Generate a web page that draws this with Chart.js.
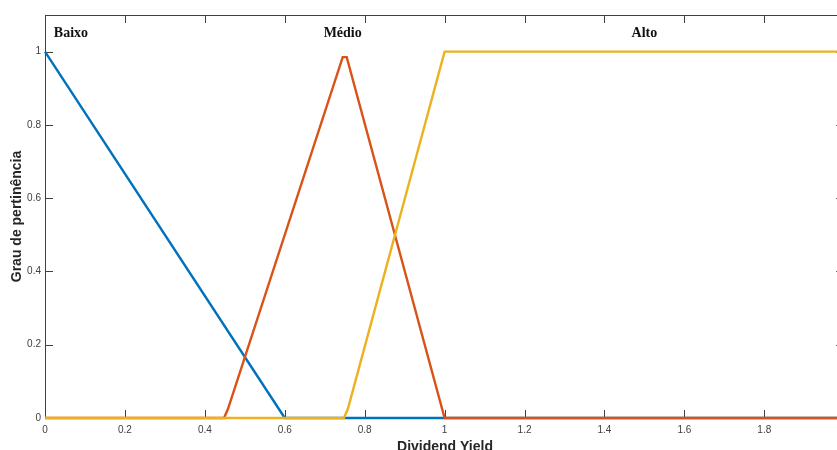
<!DOCTYPE html>
<html>
<head>
<meta charset="utf-8">
<script src="https://cdn.jsdelivr.net/npm/chart.js@4/dist/chart.umd.min.js"></script>
<style>
  html, body { margin: 0; padding: 0; overflow: hidden; background: #fff; }
  canvas { display: block; }
</style>
</head>
<body>
<canvas id="chart" width="853" height="450" style="width:853px;height:450px"></canvas>
<script>
// membership functions (x = dividend yield, y = degree)
const baixoX = [0, 0.6, 2];
const baixoY = [1, 0, 0];
const medioX = [0, 0.448, 0.458, 0.745, 0.755, 1, 2];
const medioY = [0, 0, 0.025, 0.985, 0.985, 0, 0];
const altoX = [0, 0.748, 0.758, 1, 2];
const altoY = [0, 0, 0.025, 1, 1];

const xTicks = [0, 0.2, 0.4, 0.6, 0.8, 1, 1.2, 1.4, 1.6, 1.8, 2];
const yTicks = [0, 0.2, 0.4, 0.6, 0.8, 1];

const setNames = ['Baixo', 'Médio', 'Alto'];
const setNameX = [0.065, 0.745, 1.5];
const setNameY = [1.05, 1.05, 1.05];

const toPoints = (xs, ys) => xs.map((x, i) => ({ x: x, y: ys[i] }));
const fmt = v => String(+v.toFixed(1));

const AXIS = '#404040';

// MATLAB-like box with inward ticks (under the lines), plus text annotations
const matlabAxes = {
    id: 'matlabAxes',
    beforeDatasetsDraw(chart) {
        const ctx = chart.ctx;
        const a = chart.chartArea;
        const xs = chart.scales.x, ys = chart.scales.y;
        const tl = 8;
        ctx.save();
        ctx.strokeStyle = AXIS;
        ctx.lineWidth = 1;
        ctx.strokeRect(a.left + 0.5, a.top + 0.5, a.right - a.left, a.bottom - a.top);
        ctx.beginPath();
        xTicks.forEach(v => {
            const px = Math.round(xs.getPixelForValue(v)) + 0.5;
            ctx.moveTo(px, a.bottom); ctx.lineTo(px, a.bottom - tl);
            ctx.moveTo(px, a.top); ctx.lineTo(px, a.top + tl);
        });
        yTicks.forEach(v => {
            const py = Math.round(ys.getPixelForValue(v)) + 0.5;
            ctx.moveTo(a.left, py); ctx.lineTo(a.left + tl, py);
            ctx.moveTo(a.right, py); ctx.lineTo(a.right - tl, py);
        });
        ctx.stroke();
        ctx.restore();
    },
    afterDraw(chart) {
        const ctx = chart.ctx;
        const a = chart.chartArea;
        const xs = chart.scales.x, ys = chart.scales.y;
        ctx.save();
        // set names
        ctx.fillStyle = '#111';
        ctx.font = 'bold 14px "Liberation Serif", "Times New Roman", serif';
        ctx.textAlign = 'center';
        ctx.textBaseline = 'middle';
        setNames.forEach((s, i) => {
            ctx.fillText(s, xs.getPixelForValue(setNameX[i]), ys.getPixelForValue(setNameY[i]));
        });

        // axis titles
        ctx.fillStyle = '#262626';
        ctx.font = 'bold 14px "Liberation Sans", Arial, sans-serif';
        ctx.textBaseline = 'alphabetic';
        ctx.fillText('Dividend Yield', 445, 451);
        ctx.translate(17, (a.top + a.bottom) / 2);
        ctx.rotate(-Math.PI / 2);
        ctx.textBaseline = 'middle';
        ctx.fillText('Grau de pertinência', 0, 0);
        ctx.restore();
    }
};

const lineStyle = { showLine: true, pointRadius: 0, borderWidth: 2.4, tension: 0, fill: false, clip: false };

new Chart(document.getElementById('chart'), {
    type: 'line',
    data: {
        datasets: [
            Object.assign({ label: 'Alto', data: toPoints(altoX, altoY), borderColor: '#EDB120', order: 0 }, lineStyle),
            Object.assign({ label: 'Médio', data: toPoints(medioX, medioY), borderColor: '#D95319', order: 1 }, lineStyle),
            Object.assign({ label: 'Baixo', data: toPoints(baixoX, baixoY), borderColor: '#0072BD', order: 2 }, lineStyle)
        ]
    },
    options: {
        responsive: false,
        devicePixelRatio: 1,
        animation: false,
        layout: { padding: { top: 15, right: 2, left: 0, bottom: 0 } },
        plugins: { legend: { display: false }, tooltip: { enabled: false } },
        scales: {
            x: {
                type: 'linear',
                min: 0,
                max: 2,
                grid: { display: false, drawTicks: false, tickLength: 0 },
                border: { display: false },
                afterBuildTicks: s => { s.ticks = xTicks.map(v => ({ value: v })); },
                afterFit: s => { s.height = 32; },
                ticks: {
                    callback: fmt,
                    padding: 6,
                    maxRotation: 0,
                    autoSkip: false,
                    color: '#404040',
                    font: { family: '"Liberation Sans", Arial, sans-serif', size: 10 }
                }
            },
            y: {
                type: 'linear',
                min: 0,
                max: 1.1,
                grid: { display: false, drawTicks: false, tickLength: 0 },
                border: { display: false },
                afterBuildTicks: s => { s.ticks = yTicks.map(v => ({ value: v })); },
                afterFit: s => { s.width = 45; },
                ticks: {
                    callback: fmt,
                    padding: 4,
                    autoSkip: false,
                    color: '#404040',
                    font: { family: '"Liberation Sans", Arial, sans-serif', size: 10 }
                }
            }
        }
    },
    plugins: [matlabAxes]
});
</script>
</body>
</html>
